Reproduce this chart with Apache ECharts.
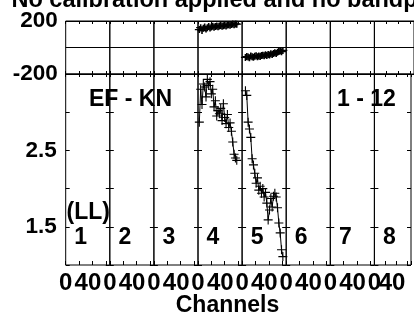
<!DOCTYPE html>
<html>
<head>
<meta charset="utf-8">
<script src="https://cdn.jsdelivr.net/npm/echarts@6/dist/echarts.min.js"></script>
<style>html,body{margin:0;padding:0;background:#fff}#chart{width:414px;height:320px}</style>
</head>
<body>
<div id="chart"></div>
<script>
// ---- data ----
const titleText = 'No calibration applied and no bandpass applied';
const baselineLabel = 'EF - KN';
const timeLabel = '1 - 12';
const polLabel = '(LL)';
const panelLabels = ['1', '2', '3', '4', '5', '6', '7', '8'];
const xTickLabels = ['0', '40'];
const phaseTickLabels = ['200', '-200'];
const ampTickLabels = ['1.5', '2.5'];
const xTitle = 'Channels';

// IF 4
const channels4 = [2, 4, 6, 8, 10, 12, 14, 16, 18, 20, 22, 24, 26, 28, 30, 32, 34, 36, 38, 40, 42, 44, 46, 48, 50, 52, 54, 56, 58];
const phase4 = [135, 150, 128, 145, 155, 140, 150, 158, 148, 155, 160, 152, 158, 163, 157, 162, 166, 160, 165, 168, 163, 170, 172, 168, 174, 177, 172, 178, 176];
const amp4 = [2.87, 3.30, 3.10, 3.37, 3.33, 3.20, 3.43, 3.35, 3.40, 3.24, 3.30, 3.07, 3.15, 2.95, 3.02, 2.98, 3.05, 2.89, 3.11, 2.93, 2.85, 2.97, 2.80, 2.86, 2.75, 2.61, 2.45, 2.40, 2.37];
// IF 5
const channels5 = [5, 7, 9, 11, 13, 15, 17, 19, 21, 23, 25, 27, 29, 31, 33, 35, 37, 39, 41, 43, 45, 47, 49, 51, 53, 55, 57, 59, 61];
const phase5 = [-75, -68, -72, -78, -65, -70, -74, -66, -62, -70, -64, -68, -60, -58, -63, -55, -60, -52, -56, -48, -53, -45, -40, -46, -36, -30, -25, -32, -22];
const amp5 = [3.28, 3.22, 2.87, 2.78, 2.67, 2.39, 2.31, 2.20, 2.07, 2.14, 1.98, 2.03, 1.94, 2.00, 1.89, 1.95, 1.81, 1.59, 1.72, 1.87, 1.76, 1.90, 1.94, 1.89, 1.75, 1.55, 1.42, 1.20, 1.11];

// ---- layout ----
const FONT = '"Liberation Sans", Arial, sans-serif';
const PL = 65.7, PW = 44.1;
const TOP1 = 21, H1 = 53, TOP2 = 74, H2 = 191;
const INK = '#000';

const grids = [], xAxes = [], yAxes = [], series = [];
const nPanels = panelLabels.length;

function tickStyle(len) {
  return { show: true, inside: true, length: len, lineStyle: { color: INK, width: 1 } };
}

for (let i = 0; i < nPanels; i++) {
  const left = PL + i * PW;
  grids.push({ left: left, top: TOP1, width: PW, height: H1, show: true, borderColor: INK, borderWidth: 1, containLabel: false });
  grids.push({ left: left, top: TOP2, width: PW, height: H2, show: true, borderColor: INK, borderWidth: 1, containLabel: false });
  for (let k = 0; k < 2; k++) {
    const g = 2 * i + k;
    const isAmp = k === 1;
    xAxes.push({
      gridIndex: g, type: 'value', min: 0, max: 66, interval: 20, position: 'bottom',
      axisLine: { show: false, onZero: false }, axisTick: tickStyle(isAmp ? 4 : 3), splitLine: { show: false },
      axisLabel: {
        show: isAmp, margin: 6, fontFamily: FONT, fontWeight: 'bold', fontSize: 24, color: INK,
        formatter: function (v) {
          if (v === 0) return xTickLabels[0];
          if (v === 40) return '{s|' + xTickLabels[1] + '}';
          return '';
        },
        rich: { s: { fontFamily: FONT, fontWeight: 'bold', fontSize: 24, color: INK, padding: [0, 9, 0, 0] } }
      }
    });
    xAxes.push({
      gridIndex: g, type: 'value', min: 0, max: 66, interval: 20, position: 'top',
      axisLine: { show: false, onZero: false }, axisTick: tickStyle(3), splitLine: { show: false },
      axisLabel: { show: false }
    });
    if (!isAmp) {
      yAxes.push({
        gridIndex: g, type: 'value', min: -200, max: 200, interval: 200, position: 'left',
        axisLine: { show: false, onZero: false }, axisTick: { show: false },
        splitLine: { show: true, lineStyle: { color: INK, width: 1 } },
        axisLabel: {
          show: i === 0, margin: 8, fontFamily: FONT, fontWeight: 'bold', fontSize: 22.5, color: INK,
          formatter: function (v) { return v === 200 ? phaseTickLabels[0] : (v === -200 ? phaseTickLabels[1] : ''); }
        }
      });
      yAxes.push({
        gridIndex: g, type: 'value', min: -200, max: 200, interval: 200, position: 'right',
        axisLine: { show: false, onZero: false }, axisTick: { show: false }, splitLine: { show: false }, axisLabel: { show: false }
      });
    } else {
      yAxes.push({
        gridIndex: g, type: 'value', min: 1, max: 3.5, interval: 0.5, position: 'left',
        axisLine: { show: false, onZero: false }, axisTick: tickStyle(4), splitLine: { show: false },
        axisLabel: {
          show: i === 0, margin: 9, fontFamily: FONT, fontWeight: 'bold', fontSize: 22.5, color: INK,
          formatter: function (v) {
            const s = v.toFixed(1);
            return ampTickLabels.indexOf(s) >= 0 ? s : '';
          }
        }
      });
      yAxes.push({
        gridIndex: g, type: 'value', min: 1, max: 3.5, interval: 0.5, position: 'right',
        axisLine: { show: false, onZero: false }, axisTick: tickStyle(4), splitLine: { show: false }, axisLabel: { show: false }
      });
    }
  }
}

const CROSS = 'path://M5,0L5,10M0,5L10,5';
function addSeries(panelIndex, isAmp, xs, ys) {
  const g = 2 * panelIndex + (isAmp ? 1 : 0);
  series.push({
    type: 'line', xAxisIndex: 2 * g, yAxisIndex: 2 * g,
    data: xs.map(function (c, j) { return [c, ys[j]]; }),
    symbol: CROSS, symbolSize: isAmp ? [9, 9] : [9, 7], showAllSymbol: true, clip: false,
    itemStyle: { color: 'none', borderColor: INK, borderWidth: isAmp ? 1.1 : 1.4 },
    lineStyle: { color: INK, width: 1 },
    emphasis: { disabled: true }, animation: false, silent: true
  });
}
addSeries(3, false, channels4, phase4);
addSeries(3, true, channels4, amp4);
addSeries(4, false, channels5, phase5);
addSeries(4, true, channels5, amp5);

const TXT = 'bold 23px ' + FONT;
const graphics = [
  { type: 'text', x: 89, y: 99.5, style: { text: baselineLabel, font: TXT, fill: INK, align: 'left', verticalAlign: 'middle' } },
  { type: 'text', x: 337, y: 99.5, style: { text: timeLabel, font: TXT, fill: INK, align: 'left', verticalAlign: 'middle' } },
  { type: 'text', x: 66.5, y: 213, style: { text: polLabel, font: TXT, fill: INK, align: 'left', verticalAlign: 'middle' } },
  { type: 'text', x: 227.5, y: 306, style: { text: xTitle, font: TXT, fill: INK, align: 'center', verticalAlign: 'middle' } }
];
panelLabels.forEach(function (lab, i) {
  graphics.push({ type: 'text', x: PL + i * PW + 15, y: 238, style: { text: lab, font: TXT, fill: INK, align: 'center', verticalAlign: 'middle' } });
});

const chart = echarts.init(document.getElementById('chart'), null, { renderer: 'canvas' });
chart.setOption({
  animation: false,
  backgroundColor: '#fff',
  title: { text: titleText, left: 11.5, top: -11, padding: 0, textStyle: { fontFamily: FONT, fontWeight: 'bold', fontSize: 23.5, color: INK } },
  grid: grids, xAxis: xAxes, yAxis: yAxes, series: series, graphic: graphics
});
</script>
</body>
</html>
